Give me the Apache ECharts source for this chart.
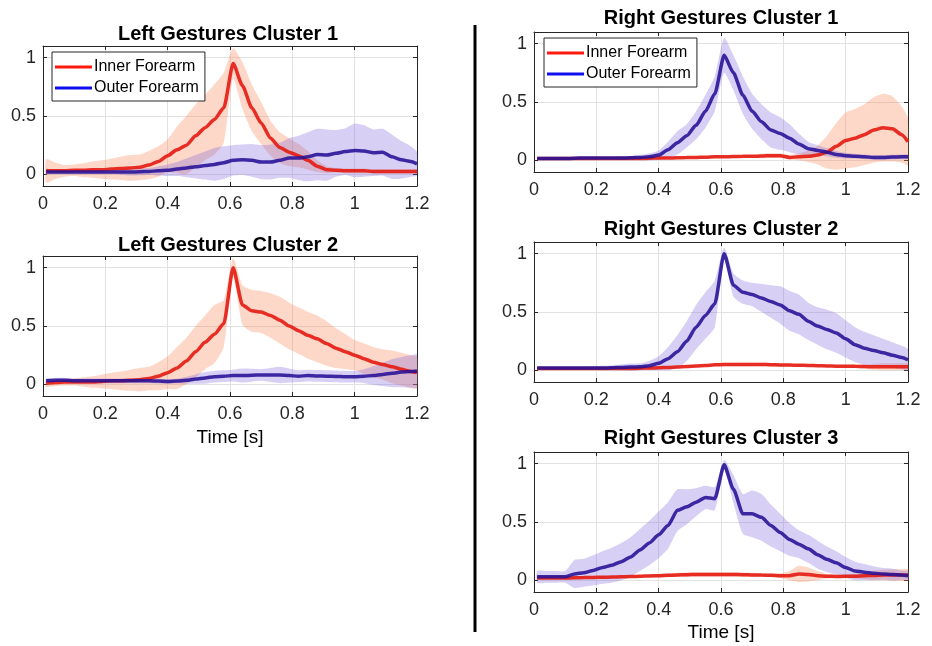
<!DOCTYPE html>
<html>
<head>
<meta charset="utf-8">
<script src="https://cdn.jsdelivr.net/npm/echarts@6/dist/echarts.min.js"></script>
<style>
  html, body { margin: 0; padding: 0; background: #fff; }
  #chart { width: 932px; height: 646px; }
</style>
</head>
<body>
<div id="chart"></div>
<script>
// 时间轴 (s)
const timePoints = [0.01, 0.04, 0.07, 0.10, 0.13, 0.16, 0.19, 0.22, 0.25, 0.28, 0.31, 0.34, 0.37, 0.40, 0.43, 0.46, 0.49, 0.52, 0.55, 0.58, 0.61,
    0.64, 0.67, 0.70, 0.73, 0.76, 0.79, 0.82, 0.85, 0.88, 0.91, 0.94, 0.97, 1.00, 1.03, 1.06, 1.09, 1.12, 1.15, 1.18, 1.20];
const yTicks = [0, 0.5, 1];
const seriesNames = ['Inner Forearm', 'Outer Forearm'];
const panelTitles = ['Left Gestures Cluster 1', 'Left Gestures Cluster 2', 'Right Gestures Cluster 1', 'Right Gestures Cluster 2', 'Right Gestures Cluster 3'];

// Left Gestures Cluster 1
const left1InnerMean = [0.03, 0.03, 0.03, 0.035, 0.035, 0.04, 0.04, 0.045, 0.05, 0.055, 0.06, 0.08, 0.11, 0.16, 0.21, 0.25, 0.33, 0.40, 0.47, 0.57, 0.95,
    0.76, 0.57, 0.44, 0.31, 0.23, 0.19, 0.16, 0.12, 0.07, 0.04, 0.035, 0.03, 0.03, 0.03, 0.025, 0.025, 0.025, 0.025, 0.025, 0.025];
const left1InnerStd = [0.10, 0.07, 0.05, 0.05, 0.06, 0.07, 0.08, 0.09, 0.10, 0.11, 0.11, 0.12, 0.13, 0.14, 0.20, 0.25, 0.27, 0.28, 0.30, 0.30, 0.13,
    0.20, 0.20, 0.18, 0.15, 0.13, 0.12, 0.10, 0.08, 0.05, 0.03, 0.02, 0.02, 0.02, 0.02, 0.02, 0.02, 0.02, 0.02, 0.02, 0.02];
const left1OuterMean = [0.02, 0.02, 0.02, 0.02, 0.02, 0.02, 0.02, 0.02, 0.02, 0.02, 0.022, 0.025, 0.03, 0.035, 0.045, 0.055, 0.065, 0.075, 0.085, 0.10, 0.12,
    0.125, 0.12, 0.105, 0.105, 0.12, 0.14, 0.14, 0.15, 0.17, 0.165, 0.18, 0.195, 0.205, 0.20, 0.185, 0.19, 0.15, 0.125, 0.11, 0.09];
const left1OuterStd = [0.02, 0.02, 0.02, 0.02, 0.02, 0.02, 0.02, 0.02, 0.025, 0.03, 0.03, 0.03, 0.04, 0.05, 0.06, 0.08, 0.10, 0.12, 0.14, 0.14, 0.13,
    0.13, 0.14, 0.145, 0.15, 0.15, 0.17, 0.19, 0.21, 0.22, 0.22, 0.20, 0.20, 0.23, 0.22, 0.20, 0.20, 0.19, 0.16, 0.13, 0.10];

// Left Gestures Cluster 2
const left2InnerMean = [0.01, 0.015, 0.02, 0.02, 0.02, 0.02, 0.025, 0.03, 0.03, 0.035, 0.04, 0.05, 0.07, 0.10, 0.14, 0.20, 0.28, 0.36, 0.43, 0.52, 1.00,
    0.68, 0.63, 0.62, 0.59, 0.55, 0.50, 0.46, 0.42, 0.39, 0.35, 0.31, 0.28, 0.25, 0.22, 0.19, 0.17, 0.15, 0.13, 0.11, 0.10];
const left2InnerStd = [0.03, 0.03, 0.03, 0.03, 0.04, 0.05, 0.06, 0.07, 0.08, 0.09, 0.10, 0.10, 0.12, 0.14, 0.18, 0.20, 0.22, 0.23, 0.25, 0.20, 0.08,
    0.17, 0.18, 0.18, 0.19, 0.20, 0.20, 0.20, 0.20, 0.20, 0.19, 0.17, 0.15, 0.13, 0.13, 0.13, 0.13, 0.14, 0.14, 0.14, 0.14];
const left2OuterMean = [0.03, 0.035, 0.035, 0.03, 0.03, 0.03, 0.03, 0.03, 0.03, 0.03, 0.03, 0.03, 0.028, 0.025, 0.028, 0.035, 0.045, 0.055, 0.065, 0.07, 0.075,
    0.075, 0.078, 0.08, 0.08, 0.08, 0.075, 0.07, 0.075, 0.072, 0.07, 0.068, 0.065, 0.065, 0.07, 0.075, 0.085, 0.095, 0.105, 0.11, 0.115];
const left2OuterStd = [0.02, 0.02, 0.02, 0.02, 0.02, 0.02, 0.02, 0.02, 0.02, 0.02, 0.02, 0.02, 0.02, 0.02, 0.02, 0.03, 0.04, 0.05, 0.05, 0.05, 0.05,
    0.06, 0.055, 0.05, 0.06, 0.07, 0.06, 0.05, 0.05, 0.05, 0.05, 0.05, 0.05, 0.05, 0.06, 0.08, 0.10, 0.12, 0.13, 0.14, 0.14];

// Right Gestures Cluster 1
const right1InnerMean = [0.015, 0.015, 0.015, 0.015, 0.015, 0.015, 0.015, 0.015, 0.015, 0.015, 0.015, 0.015, 0.018, 0.02, 0.02, 0.022, 0.024, 0.025, 0.027, 0.03, 0.03,
    0.032, 0.034, 0.035, 0.037, 0.04, 0.04, 0.025, 0.03, 0.035, 0.045, 0.07, 0.12, 0.17, 0.19, 0.22, 0.26, 0.28, 0.27, 0.22, 0.16];
const right1InnerStd = [0.01, 0.01, 0.01, 0.01, 0.01, 0.01, 0.01, 0.01, 0.01, 0.01, 0.01, 0.01, 0.01, 0.01, 0.01, 0.01, 0.01, 0.01, 0.01, 0.01, 0.01,
    0.01, 0.01, 0.01, 0.02, 0.02, 0.02, 0.02, 0.03, 0.05, 0.08, 0.14, 0.20, 0.24, 0.25, 0.26, 0.28, 0.29, 0.28, 0.24, 0.20];
const right1OuterMean = [0.015, 0.015, 0.015, 0.015, 0.018, 0.02, 0.02, 0.02, 0.02, 0.02, 0.022, 0.025, 0.03, 0.045, 0.09, 0.15, 0.21, 0.30, 0.42, 0.57, 0.90,
    0.75, 0.56, 0.42, 0.33, 0.26, 0.23, 0.19, 0.14, 0.10, 0.085, 0.07, 0.05, 0.04, 0.035, 0.03, 0.025, 0.025, 0.028, 0.03, 0.03];
const right1OuterStd = [0.01, 0.01, 0.01, 0.01, 0.01, 0.01, 0.01, 0.01, 0.01, 0.015, 0.015, 0.02, 0.03, 0.04, 0.07, 0.10, 0.10, 0.12, 0.14, 0.15, 0.15,
    0.15, 0.16, 0.15, 0.15, 0.15, 0.14, 0.12, 0.09, 0.06, 0.045, 0.035, 0.03, 0.025, 0.02, 0.02, 0.02, 0.02, 0.02, 0.02, 0.02];

// Right Gestures Cluster 2
const right2InnerMean = [0.015, 0.015, 0.015, 0.015, 0.015, 0.015, 0.015, 0.015, 0.015, 0.015, 0.015, 0.018, 0.02, 0.022, 0.025, 0.028, 0.032, 0.037, 0.042, 0.047, 0.05,
    0.05, 0.05, 0.05, 0.05, 0.048, 0.046, 0.045, 0.044, 0.042, 0.04, 0.038, 0.036, 0.035, 0.034, 0.032, 0.03, 0.03, 0.03, 0.03, 0.03];
const right2InnerStd = [0.01, 0.01, 0.01, 0.01, 0.01, 0.01, 0.01, 0.01, 0.01, 0.01, 0.01, 0.01, 0.01, 0.01, 0.01, 0.01, 0.01, 0.01, 0.01, 0.012, 0.015,
    0.015, 0.015, 0.015, 0.015, 0.015, 0.015, 0.012, 0.01, 0.01, 0.01, 0.01, 0.01, 0.012, 0.015, 0.02, 0.025, 0.03, 0.03, 0.03, 0.03];
const right2OuterMean = [0.02, 0.02, 0.02, 0.02, 0.02, 0.02, 0.02, 0.02, 0.022, 0.025, 0.028, 0.03, 0.04, 0.06, 0.10, 0.16, 0.25, 0.37, 0.47, 0.57, 1.00,
    0.73, 0.67, 0.65, 0.62, 0.59, 0.56, 0.51, 0.48, 0.42, 0.38, 0.35, 0.32, 0.27, 0.22, 0.19, 0.17, 0.15, 0.13, 0.11, 0.09];
const right2OuterStd = [0.01, 0.01, 0.01, 0.01, 0.01, 0.01, 0.015, 0.02, 0.02, 0.025, 0.03, 0.03, 0.04, 0.06, 0.10, 0.14, 0.17, 0.19, 0.20, 0.20, 0.05,
    0.10, 0.10, 0.10, 0.12, 0.14, 0.16, 0.17, 0.17, 0.16, 0.16, 0.17, 0.17, 0.16, 0.15, 0.14, 0.13, 0.12, 0.11, 0.10, 0.09];

// Right Gestures Cluster 3
const right3InnerMean = [0.02, 0.02, 0.02, 0.02, 0.022, 0.024, 0.025, 0.026, 0.028, 0.03, 0.032, 0.035, 0.038, 0.04, 0.043, 0.046, 0.048, 0.05, 0.05, 0.05, 0.05,
    0.05, 0.048, 0.046, 0.045, 0.043, 0.04, 0.04, 0.055, 0.05, 0.04, 0.035, 0.033, 0.034, 0.036, 0.04, 0.042, 0.045, 0.045, 0.045, 0.045];
const right3InnerStd = [0.01, 0.01, 0.01, 0.01, 0.01, 0.01, 0.01, 0.01, 0.01, 0.01, 0.01, 0.01, 0.012, 0.015, 0.015, 0.018, 0.02, 0.02, 0.02, 0.02, 0.02,
    0.02, 0.02, 0.018, 0.015, 0.015, 0.02, 0.04, 0.07, 0.06, 0.04, 0.02, 0.015, 0.015, 0.02, 0.03, 0.04, 0.045, 0.05, 0.05, 0.05];
const right3OuterMean = [0.03, 0.03, 0.03, 0.03, 0.055, 0.065, 0.085, 0.11, 0.13, 0.16, 0.20, 0.26, 0.32, 0.39, 0.47, 0.60, 0.63, 0.67, 0.71, 0.70, 0.99,
    0.78, 0.57, 0.57, 0.54, 0.47, 0.41, 0.35, 0.31, 0.27, 0.22, 0.18, 0.15, 0.11, 0.08, 0.07, 0.06, 0.055, 0.05, 0.045, 0.04];
const right3OuterStd = [0.05, 0.05, 0.05, 0.05, 0.12, 0.12, 0.13, 0.14, 0.15, 0.16, 0.17, 0.18, 0.19, 0.20, 0.20, 0.18, 0.15, 0.12, 0.10, 0.10, 0.04,
    0.12, 0.17, 0.20, 0.20, 0.18, 0.16, 0.14, 0.12, 0.12, 0.12, 0.11, 0.10, 0.09, 0.08, 0.07, 0.06, 0.05, 0.05, 0.04, 0.04];

const panelData = [
    [left1InnerMean, left1InnerStd, left1OuterMean, left1OuterStd],
    [left2InnerMean, left2InnerStd, left2OuterMean, left2OuterStd],
    [right1InnerMean, right1InnerStd, right1OuterMean, right1OuterStd],
    [right2InnerMean, right2InnerStd, right2OuterMean, right2OuterStd],
    [right3InnerMean, right3InnerStd, right3OuterMean, right3OuterStd]
];

// 布局
const grids = [
    { left: 43, top: 46, width: 374, height: 140 },
    { left: 43, top: 256, width: 374, height: 140 },
    { left: 534, top: 32, width: 374, height: 140 },
    { left: 534, top: 242, width: 374, height: 140 },
    { left: 534, top: 452, width: 374, height: 140 }
];
const titlePos = [[228, 34], [228, 245], [721, 18], [721, 229], [721, 438]];
const xLabelPos = [[230, 438], [721, 633]];

const FONT = '"Liberation Sans", Arial, Helvetica, sans-serif';
const axisColor = '#262626';
const innerLine = 'rgba(228,22,12,0.88)';
const outerLine = 'rgba(38,16,150,0.88)';
const innerFill = 'rgba(250,135,85,0.33)';
const outerFill = 'rgba(125,95,220,0.30)';

// 阴影带: 在第一个数据项上画整条多边形 (mean ± std)
function bandRenderer(fill) {
    return function (params, api) {
        if (params.dataIndexInside !== 0) return null;
        const n = params.dataInsideLength;
        const upper = [], lower = [];
        for (let j = 0; j < n; j++) {
            const t = api.value(0, j);
            upper.push(api.coord([t, api.value(2, j)]));
            lower.push(api.coord([t, api.value(1, j)]));
        }
        const pts = upper.concat(lower.reverse());
        return {
            type: 'polygon',
            shape: { points: echarts.graphic.clipPointsByRect(pts, params.coordSys), smooth: 0.2 },
            style: { fill: fill, stroke: null },
            silent: true
        };
    };
}

const xAxes = [], yAxes = [], series = [];

grids.forEach((g, i) => {
    const tick = { show: true, inside: true, length: 4, lineStyle: { color: axisColor } };
    const line = { show: true, onZero: false, lineStyle: { color: axisColor, width: 1 } };
    const grid = { color: '#e2e2e2', width: 1 };
    xAxes.push({
        gridIndex: i, type: 'value', min: 0, max: 1.2, interval: 0.2, position: 'bottom',
        axisLine: line, axisTick: tick,
        axisLabel: { fontSize: 18, color: axisColor, margin: 9, fontFamily: FONT },
        splitLine: { show: true, lineStyle: grid }
    });
    xAxes.push({
        gridIndex: i, type: 'value', min: 0, max: 1.2, interval: 0.2, position: 'top',
        axisLine: line, axisTick: tick, axisLabel: { show: false }, splitLine: { show: false }
    });
    yAxes.push({
        gridIndex: i, type: 'value', min: -0.1, max: 1.1, position: 'left',
        axisLine: line,
        axisTick: Object.assign({ customValues: yTicks }, tick),
        axisLabel: { customValues: yTicks, fontSize: 18, color: axisColor, margin: 7, fontFamily: FONT },
        splitLine: { show: true, lineStyle: grid }
    });
    yAxes.push({
        gridIndex: i, type: 'value', min: -0.1, max: 1.1, position: 'right',
        axisLine: line,
        axisTick: Object.assign({ customValues: yTicks }, tick),
        axisLabel: { show: false, customValues: yTicks }, splitLine: { show: false }
    });

    const [inMean, inStd, outMean, outStd] = panelData[i];
    const parts = [
        [seriesNames[0], inMean, inStd, innerLine, innerFill],
        [seriesNames[1], outMean, outStd, outerLine, outerFill]
    ];
    parts.forEach(([name, mean, std, lc, fc]) => {
        series.push({
            name: name + ' band', type: 'custom', xAxisIndex: 2 * i, yAxisIndex: 2 * i,
            silent: true, animation: false,
            renderItem: bandRenderer(fc),
            encode: { x: 0, y: [1, 2] },
            data: timePoints.map((t, j) => [t, mean[j] - std[j], mean[j] + std[j]])
        });
        series.push({
            name: name, type: 'line', xAxisIndex: 2 * i, yAxisIndex: 2 * i,
            symbol: 'none', silent: true, animation: false,
            smooth: 0.2, smoothMonotone: 'x',
            lineStyle: { color: lc, width: 3.5 },
            itemStyle: { color: lc },
            data: timePoints.map((t, j) => [t, mean[j]])
        });
    });
});

const legendBase = {
    orient: 'vertical',
    backgroundColor: '#fff',
    borderColor: axisColor,
    borderWidth: 1,
    borderRadius: 0,
    padding: [7, 6, 5, 3],
    itemWidth: 37,
    itemHeight: 3,
    itemGap: 5,
    selectedMode: false,
    textStyle: { fontSize: 16, color: '#000', fontFamily: FONT, padding: [0, 0, 0, -3], lineHeight: 16 },
    data: [
        { name: seriesNames[0], icon: 'rect', itemStyle: { color: '#ff1a0d' } },
        { name: seriesNames[1], icon: 'rect', itemStyle: { color: '#1010ee' } }
    ]
};

const graphics = panelTitles.map((t, i) => ({
    type: 'text', x: titlePos[i][0], y: titlePos[i][1],
    style: { text: t, font: 'bold 20px ' + FONT, fill: '#000', align: 'center', verticalAlign: 'middle' }
}));
xLabelPos.forEach(p => graphics.push({
    type: 'text', x: p[0], y: p[1],
    style: { text: 'Time [s]', font: '19px ' + FONT, fill: '#000', align: 'center', verticalAlign: 'middle' }
}));
// 中间分隔线
graphics.push({
    type: 'line', shape: { x1: 475, y1: 25, x2: 475, y2: 632 },
    style: { stroke: '#000', lineWidth: 3 }
});

const chart = echarts.init(document.getElementById('chart'));
chart.setOption({
    animation: false,
    backgroundColor: '#fff',
    textStyle: { fontFamily: FONT },
    grid: grids,
    xAxis: xAxes,
    yAxis: yAxes,
    legend: [
        Object.assign({}, legendBase, { left: 52, top: 52 }),
        Object.assign({}, legendBase, { left: 544, top: 38 })
    ],
    series: series,
    graphic: graphics
});
</script>
</body>
</html>
